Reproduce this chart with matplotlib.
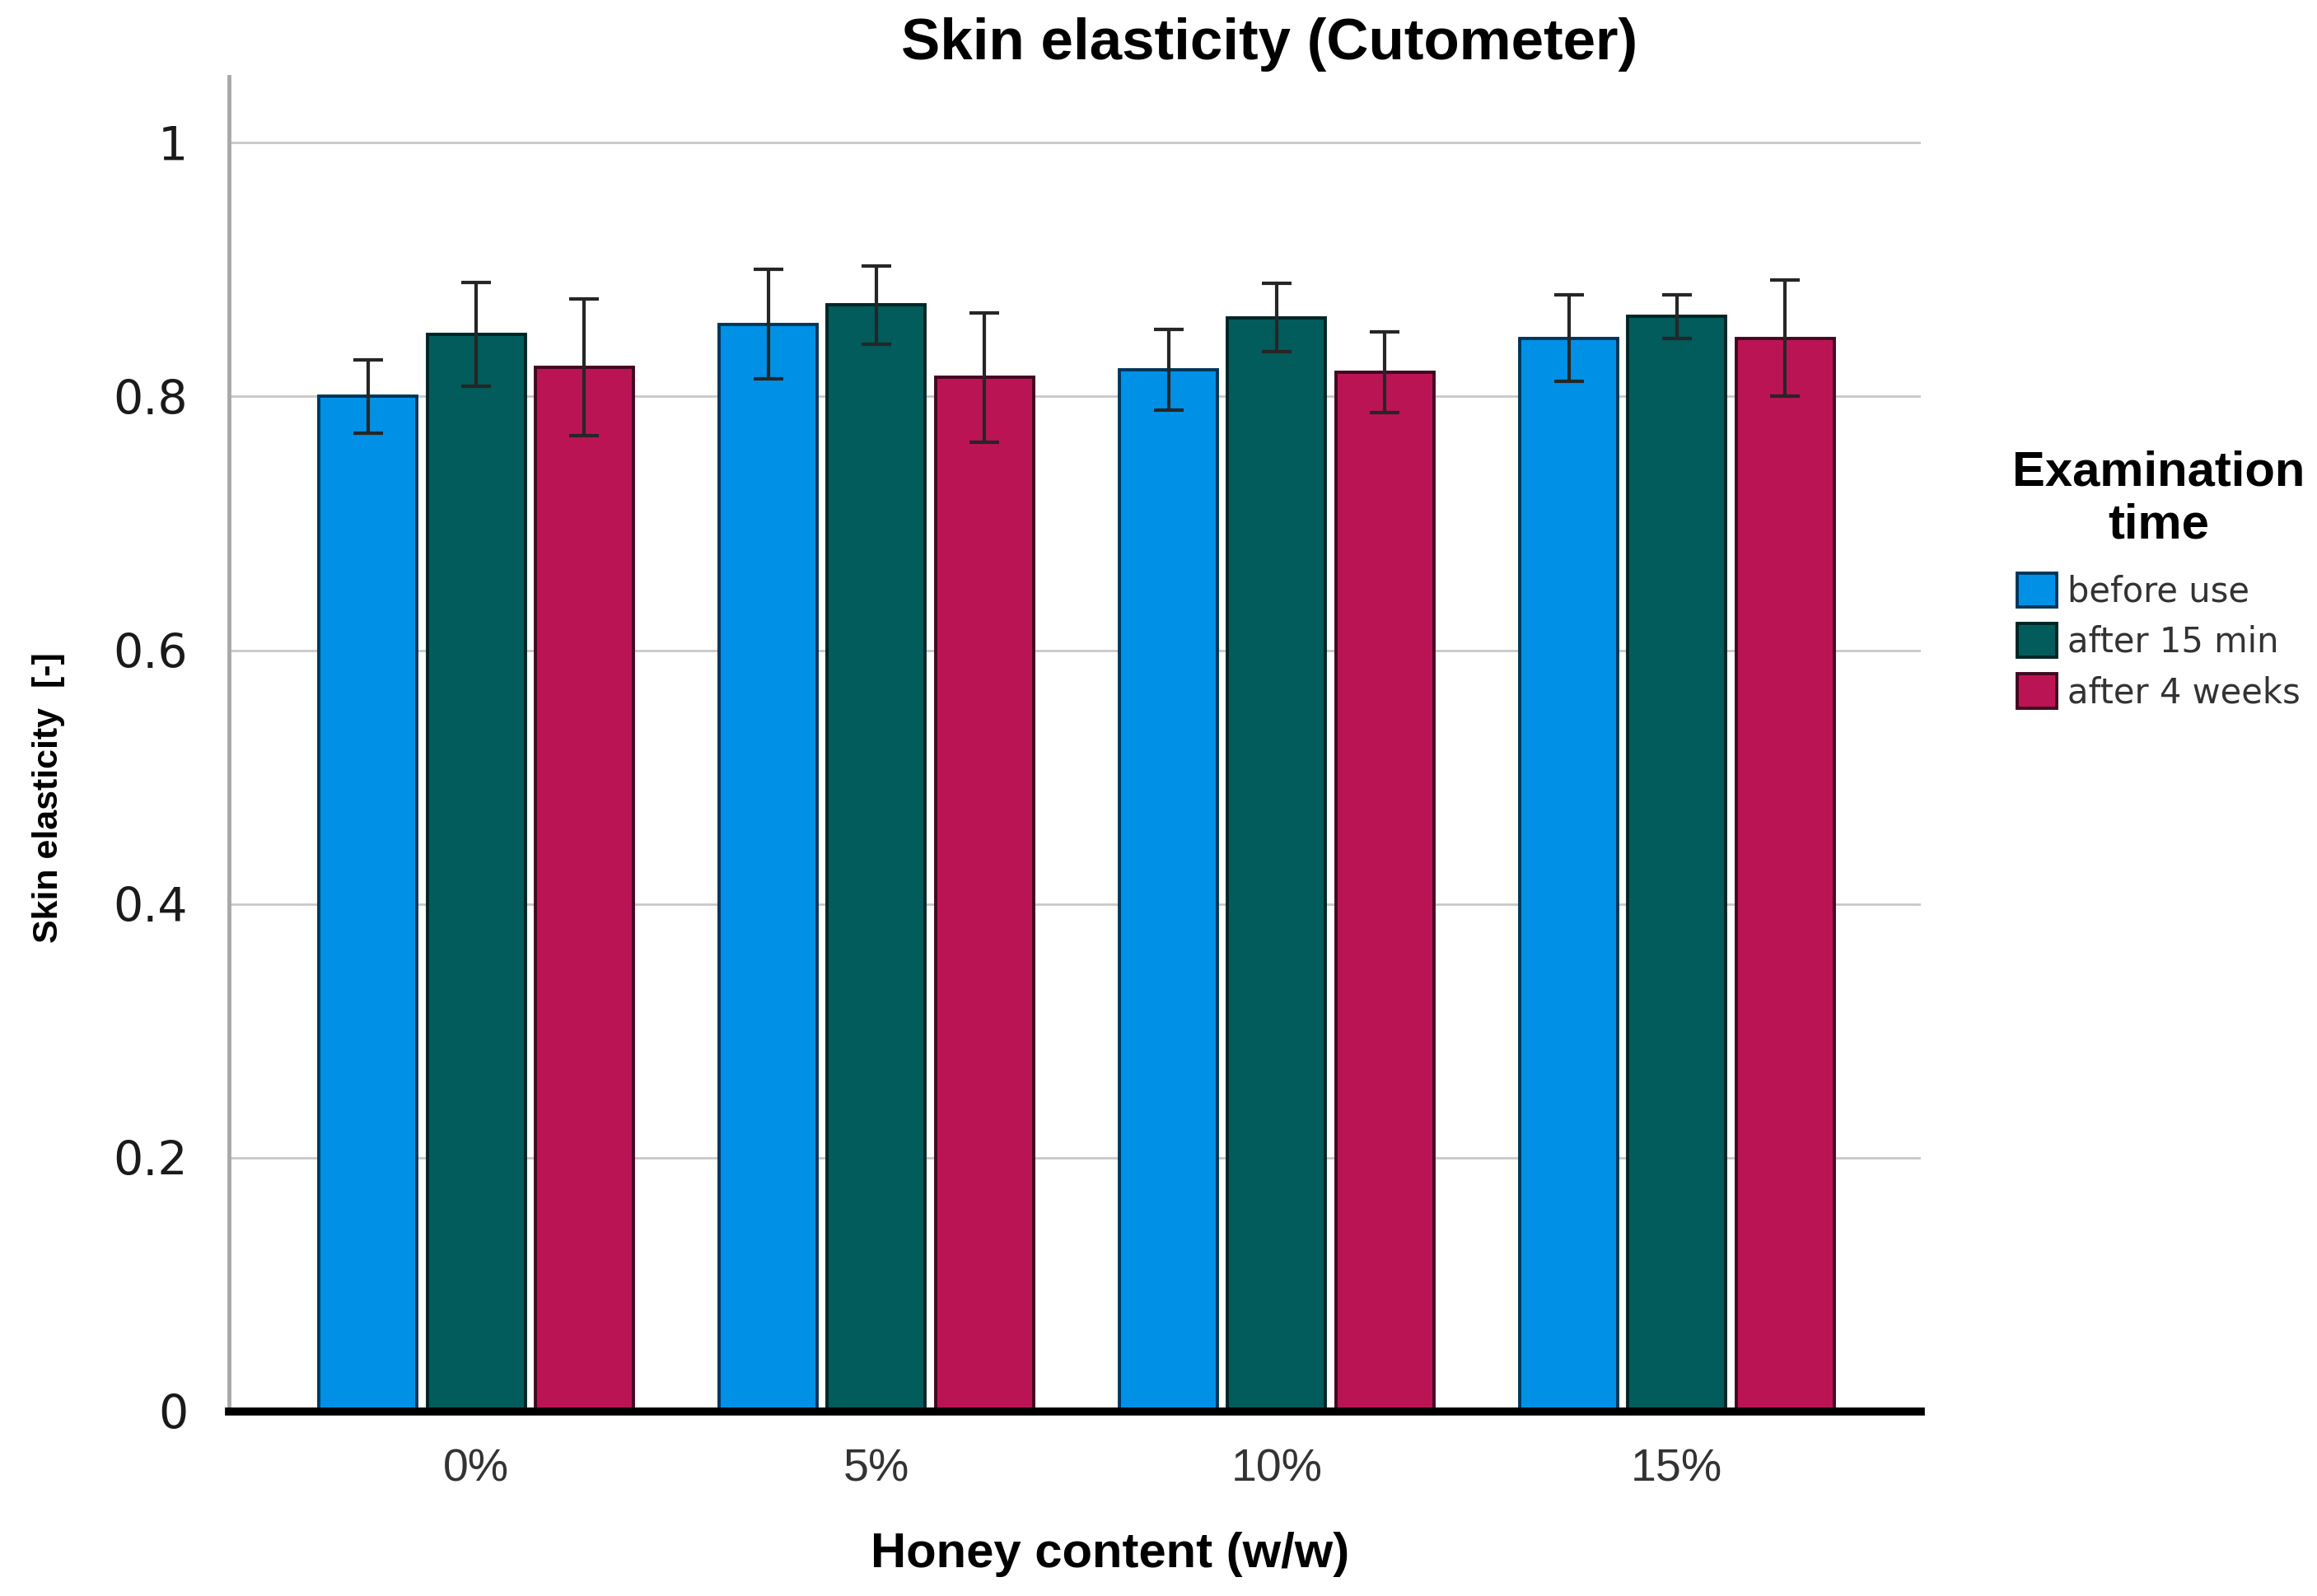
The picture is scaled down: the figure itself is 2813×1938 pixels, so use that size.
import matplotlib
matplotlib.use("Agg")
import matplotlib.pyplot as plt
import numpy as np

categories = ["0%", "5%", "10%", "15%"]
series_names = ["before use", "after 15 min", "after 4 weeks"]
before_use = [0.800, 0.857, 0.821, 0.846]
after_15min = [0.849, 0.872, 0.862, 0.863]
after_4weeks = [0.823, 0.815, 0.819, 0.846]
err_before = [0.029, 0.043, 0.032, 0.034]
err_15min = [0.041, 0.031, 0.027, 0.017]
err_4weeks = [0.054, 0.051, 0.032, 0.046]
yticks = [0, 0.2, 0.4, 0.6, 0.8, 1]
ytick_labels = ["0", "0.2", "0.4", "0.6", "0.8", "1"]

fills = ["#0091E6", "#015C5B", "#BB1455"]
edges = ["#00355A", "#002525", "#420820"]

fig = plt.figure(figsize=(28.13, 19.38), dpi=100)
ax = fig.add_axes([0.0989, 0.1157, 0.7302, 0.8362])

x = np.arange(len(categories))
width = 0.245
step = 0.27
vals = [before_use, after_15min, after_4weeks]
errs = [err_before, err_15min, err_4weeks]
for i in range(3):
    ax.bar(x + (i - 1) * step, vals[i], width, color=fills[i], edgecolor=edges[i],
           linewidth=2.8, label=series_names[i], zorder=3,
           yerr=errs[i], capsize=13,
           error_kw=dict(ecolor="#262626", elinewidth=3.0, capthick=3.0, zorder=4))

ax.set_xlim(-0.617, 3.61)
ax.set_ylim(0, 1.052)
ax.set_yticks(yticks)
ax.set_yticklabels(ytick_labels)
ax.set_xticks(x)
ax.set_xticklabels(categories)
ax.yaxis.grid(True, color="#c8c8c8", linewidth=2.0, zorder=0)
ax.set_axisbelow(True)

for s in ["top", "right"]:
    ax.spines[s].set_visible(False)
ax.spines["left"].set_color("#a8a8a8")
ax.spines["left"].set_linewidth(3.5)
ax.spines["bottom"].set_color("black")
ax.spines["bottom"].set_linewidth(7)
ax.spines["bottom"].set_zorder(5)

ax.tick_params(axis="both", length=0)
ax.tick_params(axis="y", pad=36)
ax.tick_params(axis="x", pad=32)
for t in ax.get_yticklabels():
    t.set_fontfamily("DejaVu Sans")
    t.set_fontsize(41)
    t.set_color("#1a1a1a")
for t in ax.get_xticklabels():
    t.set_fontfamily(["Liberation Sans Narrow", "Liberation Sans"])
    t.set_fontsize(40)
    t.set_color("#333333")

fig.text(0.548, 0.972, "Skin elasticity (Cutometer)", ha="center", va="center",
         fontsize=51, fontweight="bold", family=["Liberation Sans", "DejaVu Sans"])
fig.text(0.479, 0.026, "Honey content (w/w)", ha="center", va="center",
         fontsize=43, fontweight="bold", family=["Liberation Sans Narrow", "Liberation Sans"])
fig.text(0.021, 0.50, "Skin elasticity  [-]", ha="center", va="center", rotation=90,
         fontsize=31, fontweight="bold", family=["Liberation Sans Narrow", "Liberation Sans"])

leg = fig.legend(loc="upper left", bbox_to_anchor=(0.8686, 0.718), frameon=False,
                 title="Examination\ntime", borderpad=0, borderaxespad=0,
                 handlelength=1.15, handleheight=1.15, handletextpad=0.3,
                 labelspacing=0.42,
                 prop=dict(family="DejaVu Sans", size=30))
leg.get_title().set_fontsize(43)
leg.get_title().set_fontweight("bold")
leg.get_title().set_fontfamily("Liberation Sans")
leg.get_title().set_multialignment("center")
leg._legend_box.sep = 22
for t in leg.get_texts():
    t.set_color("#333333")
for h in leg.legend_handles:
    h.set_linewidth(2.8)

fig.savefig("out.png", dpi=100)
